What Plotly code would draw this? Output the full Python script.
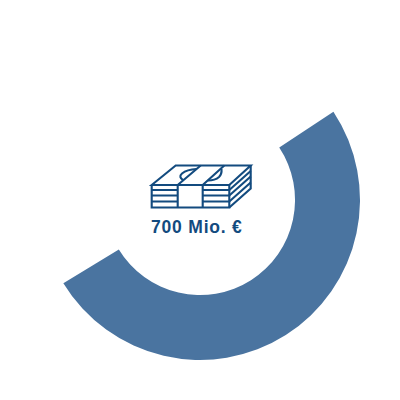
import plotly.graph_objects as go

# Anteile des Rings, zweites Segment bleibt unsichtbar
segmente = ["Betrag", "Rest"]
anteile = [50.6, 49.4]
farben = ["#4A74A0", "rgba(0,0,0,0)"]
beschriftung = "700 Mio. €"

ICON_FARBE = "#134B7F"

# Geldbündel-Icon, Koordinaten in Pixeln des 400x400-Bildes
ICON_PFADE = [
    "M151.7 185 L175.7 165.5 L250.7 165.5 L229.3 185 Z",
    "M151.7 185 L151.7 207.5 L229.3 207.5 L229.3 185",
    "M229.3 207.5 L250.7 188.5 L250.7 165.5",
    "M177.7 185 L200.7 165.5 M202.7 185 L224.3 165.5",
    "M177.7 185 L177.7 207.5 M202.7 185 L202.7 207.5",
    "M151.7 190 L177.7 190 M151.7 195.5 L177.7 195.5 M151.7 201.5 L177.7 201.5",
    "M202.7 190 L229.3 190 M202.7 195.5 L229.3 195.5 M202.7 201.5 L229.3 201.5",
    "M229.3 190 L250.7 171 M229.3 195.5 L250.7 176.5 M229.3 201.5 L250.7 182.5",
    "M183.5 180.5 Q178 177 182 173.5 Q187 169.5 196.5 169",
    "M208 180.5 Q215 180.5 219 177 Q222 174 221.5 169",
]

fig = go.Figure(go.Pie(
    labels=segmente,
    values=anteile,
    hole=0.594,
    rotation=56.5,
    direction="clockwise",
    sort=False,
    textinfo="none",
    hoverinfo="skip",
    showlegend=False,
    marker=dict(colors=farben, line=dict(width=0)),
    domain=dict(x=[0.1, 0.9], y=[0.1, 0.9]),
))

fig.update_layout(
    width=400,
    height=400,
    margin=dict(l=0, r=0, t=0, b=0),
    paper_bgcolor="white",
    plot_bgcolor="white",
    xaxis=dict(range=[0, 400], visible=False, fixedrange=True),
    yaxis=dict(range=[400, 0], visible=False, fixedrange=True),
    shapes=[
        dict(type="path", path=p, xref="x", yref="y",
             line=dict(color=ICON_FARBE, width=2.1))
        for p in ICON_PFADE
    ],
    annotations=[dict(
        x=196.5, y=227, xref="x", yref="y", text=f"<b>{beschriftung}</b>",
        showarrow=False,
        font=dict(family="Liberation Sans", size=17.5, color=ICON_FARBE),
    )],
)

# Seitenrand weg, Sperrung der Beschriftung
nachlauf = """
document.body.style.margin = '0';
document.querySelectorAll('.annotation-text').forEach(function (t) {
    t.style.letterSpacing = '0.8px';
});
"""
fig.write_html("out.html", config={"displayModeBar": False}, post_script=nachlauf)
